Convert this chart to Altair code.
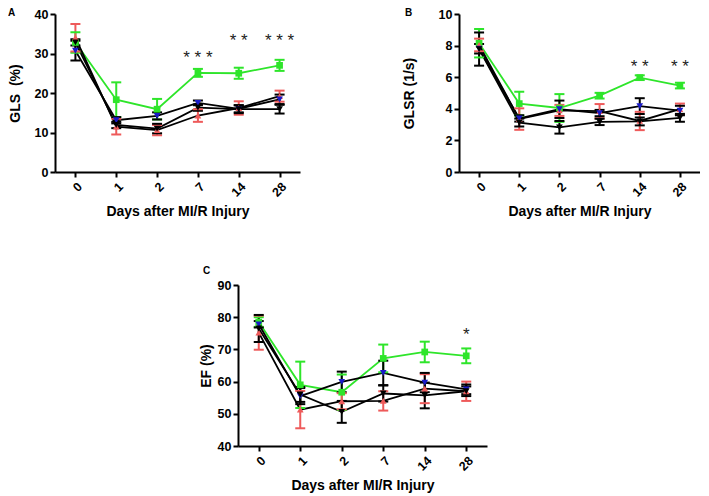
import altair as alt
import pandas as pd

# ---------------- data ----------------
days = ["0", "1", "2", "7", "14", "28"]
series = ["S1", "S2", "S3", "S4"]

# Panel A: GLS (%)
gls_mean = {
    "S1": [32.8, 18.3, 15.9, 25.1, 25.0, 27.0],
    "S2": [34.0, 11.5, 10.6, 14.3, 16.2, 19.2],
    "S3": [30.7, 13.1, 14.2, 17.5, 16.0, 18.4],
    "S4": [32.8, 11.9, 11.0, 16.3, 15.9, 15.9],
}
gls_err = {
    "S1": [2.6, 4.4, 2.6, 1.0, 1.4, 1.4],
    "S2": [3.5, 2.0, 1.3, 1.6, 1.7, 1.4],
    "S3": [2.5, 0.8, 0.9, 0.6, 0.9, 1.2],
    "S4": [0.8, 0.8, 1.2, 0.8, 1.0, 1.1],
}

# Panel B: GLSR (1/s)
glsr_mean = {
    "S1": [8.15, 4.33, 4.05, 4.83, 5.97, 5.47],
    "S2": [8.04, 3.35, 3.90, 3.85, 3.23, 3.98],
    "S3": [7.80, 3.39, 3.97, 3.73, 4.17, 3.89],
    "S4": [7.78, 3.13, 2.83, 3.17, 3.20, 3.43],
}
glsr_err = {
    "S1": [0.90, 0.75, 0.88, 0.18, 0.15, 0.18],
    "S2": [0.40, 0.68, 0.35, 0.45, 0.58, 0.35],
    "S3": [0.30, 0.20, 0.55, 0.20, 0.50, 0.30],
    "S4": [1.05, 0.25, 0.40, 0.20, 0.25, 0.25],
}

# Panel C: EF (%)
ef_mean = {
    "S1": [78.5, 59.0, 56.7, 67.2, 69.2, 68.0],
    "S2": [75.2, 51.3, 53.9, 54.0, 57.8, 57.0],
    "S3": [77.8, 55.5, 59.9, 62.7, 59.7, 57.6],
    "S4": [76.5, 56.0, 50.6, 56.3, 55.7, 57.0],
}
ef_err = {
    "S1": [1.5, 7.2, 5.5, 4.3, 3.2, 2.3],
    "S2": [5.3, 5.8, 2.5, 3.0, 4.5, 3.0],
    "S3": [1.0, 2.5, 3.2, 3.8, 3.0, 1.5],
    "S4": [4.2, 2.3, 3.4, 2.5, 4.0, 1.5],
}

# significance marks
gls_star_days = ["7", "14", "28"]
gls_star_y = [30.0, 34.3, 34.3]
gls_star_text = ["* * *", "* *", "* * *"]
glsr_star_days = ["14", "28"]
glsr_star_y = [6.9, 6.9]
glsr_star_text = ["* *", "* *"]
ef_star_days = ["28"]
ef_star_y = [75.7]
ef_star_text = ["*"]

# ---------------- style ----------------
marker_colors = ["#2ee52a", "#ee5a5a", "#1a1ac8", "#000000"]
bar_colors = ["#2ee52a", "#ee5a5a", "#000000", "#000000"]
line_colors = ["#2ee52a", "#000000", "#000000", "#000000"]
shapes = ["square", "triangle-up", "triangle-down", "triangle-down"]
FONT = "Liberation Sans"


def build_df(means, errs):
    rows = []
    for si, s in enumerate(series):
        for di, d in enumerate(days):
            m = means[s][di]
            e = errs[s][di]
            rows.append({
                "series": s, "day": d, "idx": di, "mean": m,
                "lo": m - e, "hi": m + e,
                "mcol": marker_colors[si], "bcol": bar_colors[si],
                "lcol": line_colors[si],
            })
    return pd.DataFrame(rows)


def panel(means, errs, ydom, yvals, ytitle, tpad, letter, lx, ly,
          sdays, sy, stext, w, h):
    df = build_df(means, errs)
    xenc = alt.X("day:O", sort=days,
                 scale=alt.Scale(type="point", padding=0.5),
                 axis=alt.Axis(title="Days after MI/R Injury", labelAngle=315,
                               labelPadding=3, titlePadding=6))
    yscale = alt.Scale(domain=ydom, nice=False, zero=False)
    yaxis = alt.Axis(values=yvals, title=ytitle, titlePadding=tpad)
    base = alt.Chart(df)
    lines = base.mark_line(strokeWidth=1.8).encode(
        x=xenc, y=alt.Y("mean:Q", scale=yscale, axis=yaxis),
        detail="series:N", order="idx:Q",
        color=alt.Color("lcol:N", scale=None))
    rules = base.mark_rule(strokeWidth=2).encode(
        x=xenc, y=alt.Y("lo:Q", scale=yscale, axis=yaxis), y2="hi:Q",
        color=alt.Color("bcol:N", scale=None))
    cap_lo = base.mark_tick(thickness=2, size=10, opacity=1).encode(
        x=xenc, y=alt.Y("lo:Q", scale=yscale, axis=yaxis),
        color=alt.Color("bcol:N", scale=None))
    cap_hi = base.mark_tick(thickness=2, size=10, opacity=1).encode(
        x=xenc, y=alt.Y("hi:Q", scale=yscale, axis=yaxis),
        color=alt.Color("bcol:N", scale=None))
    pts = base.mark_point(filled=True, size=45, opacity=1).encode(
        x=xenc, y=alt.Y("mean:Q", scale=yscale, axis=yaxis),
        shape=alt.Shape("series:N", scale=alt.Scale(domain=series, range=shapes), legend=None),
        color=alt.Color("mcol:N", scale=None))
    sdf = pd.DataFrame({"day": sdays, "y": sy, "t": stext})
    stars = alt.Chart(sdf).mark_text(font=FONT, fontSize=17, dy=4, color="#222222").encode(
        x=xenc, y=alt.Y("y:Q", scale=yscale, axis=yaxis), text="t:N")
    ldf = pd.DataFrame({"t": [letter]})
    let = alt.Chart(ldf).mark_text(font=FONT, fontSize=10, fontWeight="bold",
                                   align="left", baseline="middle", clip=False).encode(
        x=alt.value(lx), y=alt.value(ly), text="t:N")
    return alt.layer(lines, rules, cap_lo, cap_hi, pts, stars, let).properties(width=w, height=h)


pA = panel(gls_mean, gls_err, [0, 40], [0, 10, 20, 30, 40], "GLS\u00a0 (%)", 12,
           "A", -47, -1, gls_star_days, gls_star_y, gls_star_text, 245, 158)
pB = panel(glsr_mean, glsr_err, [0, 10], [0, 2, 4, 6, 8, 10], "GLSR (1/s)", 22,
           "B", -54, -1, glsr_star_days, glsr_star_y, glsr_star_text, 241, 158)
pC = panel(ef_mean, ef_err, [40, 90], [40, 50, 60, 70, 80, 90], "EF (%)", 4,
           "C", -35, -14, ef_star_days, ef_star_y, ef_star_text, 249, 161)

spacer = alt.Chart(pd.DataFrame({"a": [0]})).mark_point(opacity=0).encode(
    x=alt.value(0), y=alt.value(0)).properties(width=183, height=161)

top = alt.hconcat(pA, pB, spacing=159, bounds="flush")
bottom = alt.hconcat(spacer, pC, spacing=0, bounds="flush")
chart = alt.vconcat(top, bottom, spacing=47, bounds="full").properties(
    padding=0, background="white"
).configure_view(strokeWidth=0).configure_axis(
    labelFont=FONT, titleFont=FONT, labelFontWeight="bold", titleFontWeight="bold",
    labelFontSize=12.5, titleFontSize=14, labelColor="black", titleColor="black",
    domainColor="black", tickColor="black", domainWidth=2, tickWidth=2, tickSize=5,
    grid=False
)

chart.save("out.html", embed_options={"renderer": "svg", "actions": False})
